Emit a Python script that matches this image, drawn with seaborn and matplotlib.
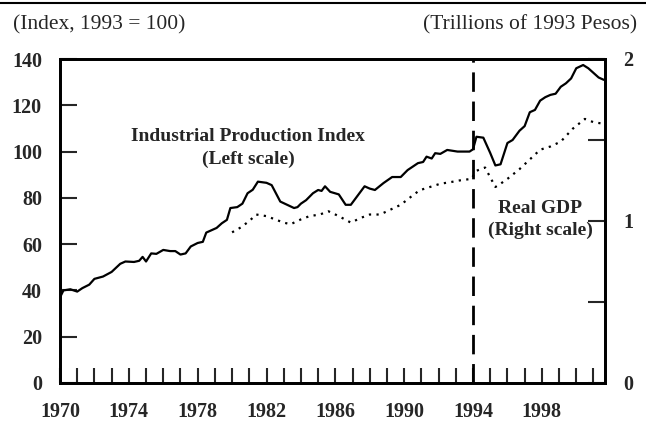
import matplotlib
matplotlib.use("Agg")
import matplotlib.pyplot as plt
from matplotlib.lines import Line2D
from matplotlib.ticker import MultipleLocator, FixedLocator
import pandas as pd
import seaborn as sns

# Industrial production index (1993 = 100)
ip_year = [
    1970.0, 1970.2, 1970.6, 1971.0, 1971.3, 1971.7, 1972.0, 1972.5, 1973.0,
    1973.5, 1973.8, 1974.3, 1974.6, 1974.8, 1975.0, 1975.3, 1975.6, 1976.0,
    1976.4, 1976.7, 1977.0, 1977.3, 1977.6, 1978.0, 1978.3, 1978.5, 1978.8,
    1979.1, 1979.4, 1979.7, 1979.9, 1980.3, 1980.6, 1980.9, 1981.2, 1981.5,
    1982.0, 1982.3, 1982.8, 1983.2, 1983.6, 1983.8, 1984.0, 1984.3, 1984.7,
    1985.0, 1985.2, 1985.4, 1985.7, 1986.2, 1986.6, 1986.9, 1987.3, 1987.7,
    1988.0, 1988.3, 1988.8, 1989.3, 1989.8, 1990.2, 1990.5, 1990.8, 1991.1,
    1991.3, 1991.6, 1991.8, 1992.1, 1992.5, 1993.1, 1993.8, 1994.0, 1994.2,
    1994.6, 1995.0, 1995.3, 1995.6, 1996.0, 1996.3, 1996.7, 1997.0, 1997.3,
    1997.6, 1997.9, 1998.2, 1998.5, 1998.8, 1999.1, 1999.4, 1999.7, 2000.0,
    2000.4, 2000.7, 2001.0, 2001.3, 2001.6,
]
ip_value = [
    37, 40, 40.5, 39.5, 41, 42.5, 45, 46, 48,
    51.5, 52.5, 52.3, 52.8, 54.5, 52.5, 56, 55.8, 57.5,
    57, 57, 55.5, 56, 59, 60.5, 61, 65, 66,
    67, 69, 70.5, 75.6, 76, 77.5, 82, 83.5, 87,
    86.5, 85.5, 78.4, 77, 75.6, 76, 77.5, 79, 82,
    83.4, 83, 85, 82.6, 81.5, 77, 77, 81, 85,
    84, 83.4, 86.4, 89, 89, 92, 93.5, 95, 95.5,
    97.8, 97, 99.3, 99, 100.7, 100, 100, 101, 106.4,
    106, 99.4, 94, 94.5, 103.7, 105, 109, 111, 117,
    118, 122, 123.5, 124.5, 125, 128, 129.5, 131.6, 136,
    137.4, 136, 134, 132, 131,
]

# Real GDP (trillions of 1993 pesos)
gdp_year = [
    1980.0, 1980.5, 1981.0, 1981.4, 1982.0, 1982.5, 1983.0, 1983.4, 1984.0,
    1984.5, 1985.1, 1985.6, 1986.2, 1986.9, 1987.5, 1988.0, 1988.6, 1989.2,
    1989.8, 1990.4, 1990.9, 1991.5, 1992.1, 1992.7, 1993.2, 1993.9, 1994.2,
    1994.7, 1995.3, 1995.6, 1996.0, 1996.7, 1997.3, 1997.9, 1998.5, 1999.1,
    1999.8, 2000.5, 2001.0, 2001.6,
]
gdp_value = [
    0.93, 0.96, 1.00, 1.04, 1.03, 1.01, 0.99, 0.98, 1.01,
    1.03, 1.04, 1.06, 1.03, 0.99, 1.02, 1.04, 1.04, 1.07,
    1.10, 1.15, 1.19, 1.21, 1.23, 1.24, 1.25, 1.26, 1.31,
    1.33, 1.21, 1.23, 1.26, 1.32, 1.38, 1.44, 1.46, 1.49,
    1.57, 1.63, 1.61, 1.60,
]

year_labels = [1970, 1974, 1978, 1982, 1986, 1990, 1994, 1998]
left_ticks = [0, 20, 40, 60, 80, 100, 120, 140]

ip = pd.DataFrame({"year": ip_year, "value": ip_value})
gdp = pd.DataFrame({"year": gdp_year, "value": gdp_value})

sns.set_style("ticks")
plt.rcParams["font.family"] = ["Liberation Serif", "DejaVu Serif"]

fig = plt.figure(figsize=(6.46, 4.22), dpi=100)
ax = fig.add_axes([60 / 646, 1 - 383 / 422, 545 / 646, 324 / 422])
ax2 = ax.twinx()

sns.lineplot(data=ip, x="year", y="value", ax=ax, color="black", lw=1.6)
sns.lineplot(data=gdp, x="year", y="value", ax=ax2, color="black", lw=1.6,
             linestyle=(0, (1, 2.4)))
ax.axvline(1994, color="black", lw=2, dashes=(7, 3.5))

ax.set_xlim(1970, 2001.67)
ax.set_ylim(0, 140)
ax2.set_ylim(0, 2)

for a in (ax, ax2):
    for s in a.spines.values():
        s.set_linewidth(2)
        s.set_color("black")
    a.set_xlabel("")
    a.set_ylabel("")

ax.xaxis.set_major_locator(FixedLocator(year_labels))
ax.xaxis.set_minor_locator(MultipleLocator(1))
ax.set_yticks(left_ticks)
ax2.yaxis.set_major_locator(FixedLocator([0, 1, 2]))
ax2.yaxis.set_minor_locator(FixedLocator([0.5, 1.5]))

ax.tick_params(axis="x", which="both", direction="in", length=11, width=1.5,
               pad=14, labelsize=14.5, top=False)
ax.tick_params(axis="y", which="both", direction="in", length=12, width=1.5,
               pad=13, labelsize=14.5, right=False)
ax2.tick_params(axis="y", which="both", direction="in", length=12, width=1.5,
                pad=13, labelsize=14.5)
for lab in ax.get_xticklabels() + ax.get_yticklabels() + ax2.get_yticklabels():
    lab.set_fontweight("bold")

ax.text(1980.95, 101.5, "Industrial Production Index\n(Left scale)",
        ha="center", va="center", fontsize=14, fontweight="bold",
        linespacing=1.4)
ax2.text(1997.9, 1.01, "Real GDP\n(Right scale)", ha="center", va="center",
         fontsize=14, fontweight="bold", linespacing=1.4)

fig.text(13 / 646, 1 - 25 / 422, "(Index, 1993 = 100)", ha="left",
         va="center", fontsize=15.5)
fig.text(637 / 646, 1 - 25 / 422, "(Trillions of 1993 Pesos)", ha="right",
         va="center", fontsize=15.5)
fig.add_artist(Line2D([0, 1], [1 - 3 / 422, 1 - 3 / 422], color="black",
                      lw=1.5, transform=fig.transFigure))

fig.savefig("out.png", dpi=100)
